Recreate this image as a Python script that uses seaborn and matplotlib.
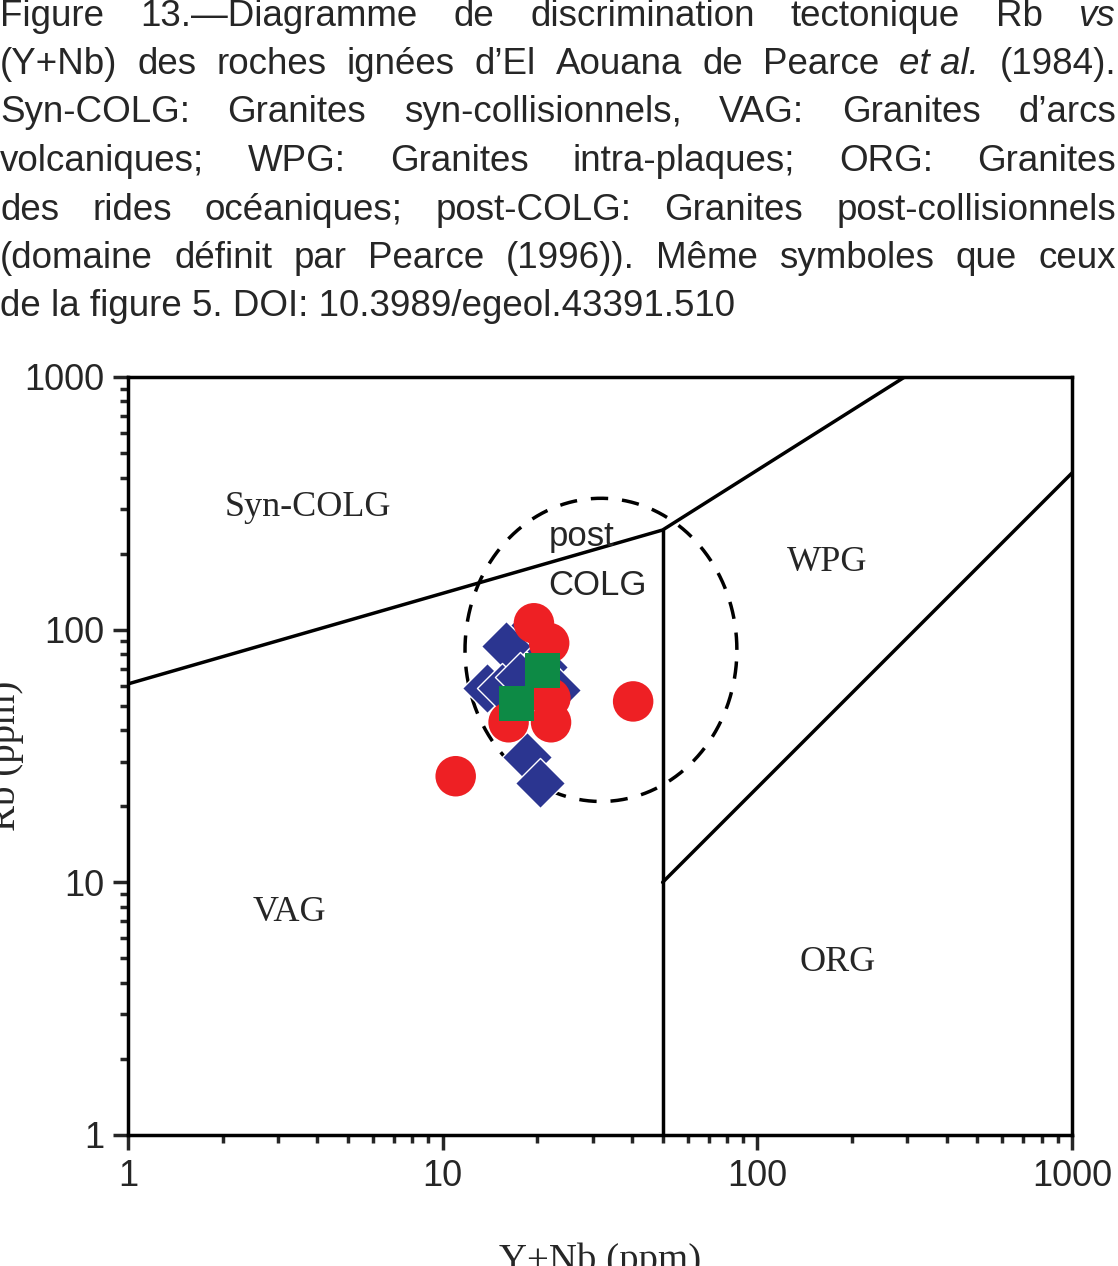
import numpy as np
import pandas as pd
import matplotlib
matplotlib.use("Agg")
import matplotlib.pyplot as plt
import seaborn as sns

# Samples (Y+Nb, Rb in ppm)
circle_x = [19.5, 21.8, 22.0, 16.2, 22.1, 40.3, 11.0]
circle_y = [106, 88.5, 53.6, 43, 43, 52, 26.3]
diamond_x = [18.9, 15.9, 20.8, 13.8, 15.4, 23.0, 17.6, 18.5, 20.4]
diamond_y = [100, 86, 71, 59, 59, 57.5, 65, 31.3, 24.7]
square_x = [20.8, 17.2]
square_y = [69, 51]

# field boundaries
syn_x = [1, 50, 294]
syn_y = [61, 248, 1000]
wpg_x = [50, 1000]
wpg_y = [10, 417]
vert_x = [50, 50]
vert_y = [1, 248]

caption = [
    [("Figure", 0), ("13.—Diagramme", 0), ("de", 0), ("discrimination", 0), ("tectonique", 0), ("Rb", 0), ("vs", 1)],
    [("(Y+Nb)", 0), ("des", 0), ("roches", 0), ("ignées", 0), ("d’El", 0), ("Aouana", 0), ("de", 0), ("Pearce", 0), ("et al.", 1), ("(1984).", 0)],
    [("Syn-COLG:", 0), ("Granites", 0), ("syn-collisionnels,", 0), ("VAG:", 0), ("Granites", 0), ("d’arcs", 0)],
    [("volcaniques;", 0), ("WPG:", 0), ("Granites", 0), ("intra-plaques;", 0), ("ORG:", 0), ("Granites", 0)],
    [("des", 0), ("rides", 0), ("océaniques;", 0), ("post-COLG:", 0), ("Granites", 0), ("post-collisionnels", 0)],
    [("(domaine", 0), ("définit", 0), ("par", 0), ("Pearce", 0), ("(1996)).", 0), ("Même", 0), ("symboles", 0), ("que", 0), ("ceux", 0)],
    [("de la figure 5. DOI: 10.3989/egeol.43391.510", 0)],
]

sns.set_theme(style="white")
plt.rcParams["font.family"] = ["Liberation Sans", "DejaVu Sans"]

fig = plt.figure(figsize=(11.18, 12.66), dpi=100)
ax = fig.add_axes([128 / 1118, 1 - 1135 / 1266, 944 / 1118, 758 / 1266])

for bx, by in [(syn_x, syn_y), (wpg_x, wpg_y), (vert_x, vert_y)]:
    ax.plot(bx, by, color="black", lw=2.5)

# dashed post-COLG ellipse in log space
t = np.linspace(0, 2 * np.pi, 300)
ax.plot(10 ** (1.503 + 0.432 * np.cos(t)), 10 ** (1.92 + 0.60 * np.sin(t)),
        color="black", lw=2.5, ls=(0, (5, 4)))

sns.scatterplot(x=diamond_x, y=diamond_y, ax=ax, marker="D", s=650, color="#2b3590",
                edgecolor="white", linewidth=1, zorder=3)
sns.scatterplot(x=circle_x, y=circle_y, ax=ax, marker="o", s=850, color="#ee2024",
                edgecolor="none", zorder=4)
sns.scatterplot(x=square_x, y=square_y, ax=ax, marker="s", s=650, color="#0d8a45",
                edgecolor="none", zorder=5)

ax.set_xscale("log")
ax.set_yscale("log")
ax.set_xlim(1, 1000)
ax.set_ylim(1, 1000)
ax.set_xticks([1, 10, 100, 1000])
ax.set_xticklabels(["1", "10", "100", "1000"])
ax.set_yticks([1, 10, 100, 1000])
ax.set_yticklabels(["1", "10", "100", "1000"])
ax.tick_params(which="major", direction="out", length=11, width=2.5, labelsize=26,
               bottom=True, left=True, pad=6)
ax.tick_params(which="minor", direction="out", length=6, width=2.5, bottom=True, left=True)
for sp in ax.spines.values():
    sp.set_linewidth(2.5)
    sp.set_color("black")

serif = ["Liberation Serif", "DejaVu Serif"]
ax.set_xlabel("Y+Nb (ppm)", fontsize=28, family=serif)
ax.set_ylabel("Rb (ppm)", fontsize=28, family=serif)
ax.xaxis.set_label_coords(0.5, -0.142)
ax.yaxis.set_label_coords(-0.11, 0.5)

for txt, x, y in [("Syn-COLG", 3.73, 305), ("WPG", 167, 184), ("VAG", 3.25, 7.6), ("ORG", 180, 4.8)]:
    ax.text(x, y, txt, fontsize=26, family=serif, ha="center", va="center")
ax.text(27.7, 233, "post", fontsize=25, ha="center", va="center")
ax.text(31, 150, "COLG", fontsize=25, ha="center", va="center")

# justified caption
fig.canvas.draw()
renderer = fig.canvas.get_renderer()
W = fig.bbox.width
for i, line in enumerate(caption):
    ypix = 1266 - (16 + 48.5 * i)
    texts = []
    for w, it in line:
        tt = fig.text(0, ypix / 1266, w, fontsize=26.5, style="italic" if it else "normal",
                      ha="left", va="center")
        texts.append(tt)
    widths = [tt.get_window_extent(renderer).width for tt in texts]
    if i < len(caption) - 1 and len(texts) > 1:
        gap = (W - 2 - sum(widths)) / (len(texts) - 1)
    else:
        gap = 0
    x = 0
    for tt, wd in zip(texts, widths):
        tt.set_x(x / W)
        x += wd + gap

fig.savefig("out.png", dpi=100)
